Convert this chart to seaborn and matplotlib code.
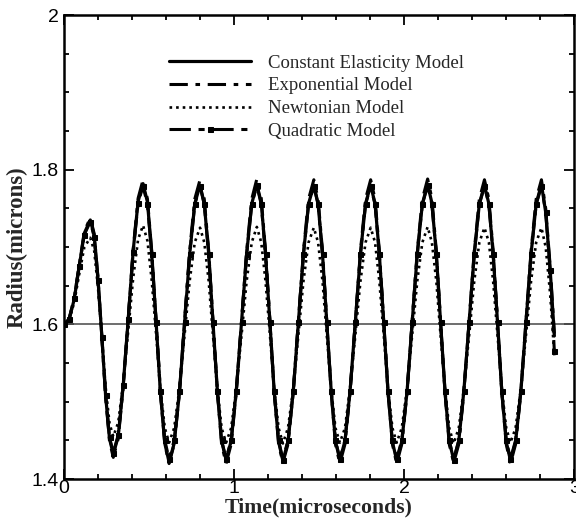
import pandas as pd
import seaborn as sns
import matplotlib.pyplot as plt
from matplotlib.ticker import MultipleLocator, FormatStrFormatter

# time samples (microseconds)
time = [0.000, 0.030, 0.060, 0.090, 0.120, 0.155,
        0.178, 0.200, 0.223, 0.245, 0.268, 0.290,
        0.319, 0.348, 0.378, 0.407, 0.436,
        0.465, 0.491, 0.516, 0.542, 0.567, 0.593, 0.618, 0.648, 0.679, 0.709, 0.739, 0.769,
        0.800, 0.825, 0.851, 0.876, 0.902, 0.927, 0.953, 0.983, 1.013, 1.044, 1.074, 1.104,
        1.134, 1.160, 1.185, 1.211, 1.236, 1.262, 1.287, 1.317, 1.348, 1.378, 1.408, 1.438,
        1.469, 1.494, 1.520, 1.545, 1.571, 1.596, 1.622, 1.652, 1.682, 1.713, 1.743, 1.773,
        1.803, 1.829, 1.854, 1.880, 1.905, 1.931, 1.956, 1.986, 2.017, 2.047, 2.077, 2.107,
        2.138, 2.163, 2.189, 2.214, 2.240, 2.265, 2.291, 2.321, 2.351, 2.382, 2.412, 2.442,
        2.472, 2.498, 2.523, 2.549, 2.574, 2.600, 2.625, 2.655, 2.686, 2.716, 2.746, 2.776,
        2.807, 2.832, 2.858, 2.883]

constant = [1.600, 1.606, 1.632, 1.675, 1.718, 1.735,
            1.715, 1.659, 1.584, 1.508, 1.452, 1.432,
            1.455, 1.520, 1.607, 1.695, 1.759,
            1.782, 1.758, 1.692, 1.602, 1.512, 1.446, 1.422, 1.446, 1.512, 1.601, 1.690, 1.756,
            1.780, 1.756, 1.691, 1.603, 1.514, 1.449, 1.425, 1.449, 1.514, 1.603, 1.691, 1.756,
            1.781, 1.757, 1.691, 1.602, 1.513, 1.448, 1.424, 1.448, 1.513, 1.602, 1.691, 1.756,
            1.780, 1.756, 1.691, 1.603, 1.514, 1.449, 1.425, 1.449, 1.514, 1.603, 1.691, 1.756,
            1.780, 1.756, 1.691, 1.602, 1.513, 1.448, 1.424, 1.448, 1.513, 1.602, 1.691, 1.756,
            1.781, 1.757, 1.691, 1.603, 1.514, 1.449, 1.425, 1.449, 1.514, 1.603, 1.691, 1.756,
            1.780, 1.756, 1.691, 1.602, 1.513, 1.448, 1.424, 1.448, 1.513, 1.602, 1.691, 1.756,
            1.781, 1.745, 1.672, 1.585]

exponential = [1.600, 1.606, 1.633, 1.677, 1.720, 1.738,
               1.717, 1.661, 1.583, 1.506, 1.449, 1.428,
               1.452, 1.518, 1.608, 1.697, 1.763,
               1.787, 1.762, 1.695, 1.604, 1.512, 1.445, 1.420, 1.445, 1.512, 1.604, 1.695, 1.762,
               1.787, 1.762, 1.695, 1.604, 1.512, 1.445, 1.420, 1.445, 1.512, 1.604, 1.695, 1.762,
               1.788, 1.763, 1.695, 1.604, 1.512, 1.445, 1.421, 1.445, 1.512, 1.604, 1.695, 1.762,
               1.787, 1.762, 1.695, 1.604, 1.512, 1.445, 1.420, 1.445, 1.512, 1.604, 1.695, 1.762,
               1.787, 1.762, 1.695, 1.604, 1.512, 1.445, 1.420, 1.445, 1.512, 1.604, 1.695, 1.762,
               1.788, 1.763, 1.695, 1.604, 1.512, 1.445, 1.421, 1.445, 1.512, 1.604, 1.695, 1.762,
               1.787, 1.762, 1.695, 1.604, 1.512, 1.445, 1.420, 1.445, 1.512, 1.604, 1.695, 1.762,
               1.787, 1.750, 1.676, 1.588]

newtonian = [1.600, 1.605, 1.628, 1.665, 1.700, 1.712,
             1.695, 1.648, 1.584, 1.519, 1.472, 1.455,
             1.473, 1.523, 1.592, 1.660, 1.710,
             1.728, 1.708, 1.657, 1.587, 1.517, 1.466, 1.447, 1.466, 1.517, 1.586, 1.656, 1.706,
             1.725, 1.706, 1.656, 1.586, 1.517, 1.466, 1.447, 1.466, 1.517, 1.586, 1.656, 1.706,
             1.726, 1.706, 1.656, 1.586, 1.517, 1.466, 1.446, 1.466, 1.517, 1.586, 1.656, 1.706,
             1.725, 1.706, 1.656, 1.586, 1.517, 1.466, 1.447, 1.466, 1.517, 1.586, 1.656, 1.706,
             1.725, 1.706, 1.656, 1.586, 1.517, 1.466, 1.447, 1.466, 1.517, 1.586, 1.656, 1.706,
             1.726, 1.706, 1.656, 1.586, 1.517, 1.466, 1.446, 1.466, 1.517, 1.586, 1.656, 1.706,
             1.725, 1.706, 1.656, 1.586, 1.517, 1.466, 1.447, 1.466, 1.517, 1.586, 1.656, 1.706,
             1.725, 1.700, 1.640, 1.560]

quadratic = [1.600, 1.607, 1.634, 1.676, 1.716, 1.733,
             1.713, 1.658, 1.584, 1.509, 1.454, 1.434,
             1.457, 1.521, 1.607, 1.694, 1.757,
             1.779, 1.755, 1.691, 1.603, 1.514, 1.450, 1.426, 1.450, 1.514, 1.603, 1.691, 1.755,
             1.779, 1.755, 1.691, 1.603, 1.514, 1.450, 1.426, 1.450, 1.514, 1.603, 1.691, 1.755,
             1.780, 1.755, 1.691, 1.603, 1.514, 1.450, 1.425, 1.450, 1.514, 1.603, 1.691, 1.755,
             1.779, 1.755, 1.691, 1.603, 1.514, 1.450, 1.426, 1.450, 1.514, 1.603, 1.691, 1.755,
             1.779, 1.755, 1.691, 1.603, 1.514, 1.450, 1.426, 1.450, 1.514, 1.603, 1.691, 1.755,
             1.780, 1.755, 1.691, 1.603, 1.514, 1.450, 1.425, 1.450, 1.514, 1.603, 1.691, 1.755,
             1.779, 1.755, 1.691, 1.603, 1.514, 1.450, 1.426, 1.450, 1.514, 1.603, 1.691, 1.755,
             1.779, 1.745, 1.670, 1.565]

df = pd.DataFrame({'t': time, 'const': constant, 'expo': exponential,
                   'newt': newtonian, 'quad': quadratic})

sns.set_style("ticks")
plt.rcParams['font.family'] = ['Liberation Sans', 'DejaVu Sans']

fig = plt.figure(figsize=(5.76, 5.27), dpi=100)
ax = fig.add_axes([0.111, 0.091, 0.886, 0.8805])

ax.axhline(1.6, color='#555555', lw=1.2, zorder=1)

sns.lineplot(data=df, x='t', y='const', ax=ax, color='black', lw=2.3,
             estimator=None, sort=False, label='Constant Elasticity Model')
sns.lineplot(data=df, x='t', y='expo', ax=ax, color='black', lw=2.2,
             linestyle=(0, (6, 2.5, 1.5, 2.5)),
             estimator=None, sort=False, label='Exponential Model')
sns.lineplot(data=df, x='t', y='newt', ax=ax, color='black', lw=1.9,
             linestyle=(0, (1, 1.5)),
             estimator=None, sort=False, label='Newtonian Model')
sns.lineplot(data=df, x='t', y='quad', ax=ax, color='black', lw=2.2,
             linestyle=(0, (7, 2.5, 2, 2.5)), marker='s', markersize=3.6,
             markevery=1, markeredgecolor='black', markerfacecolor='black',
             estimator=None, sort=False, label='Quadratic Model')

ax.set_xlim(0, 3)
ax.set_ylim(1.4, 2)
ax.xaxis.set_major_locator(MultipleLocator(1))
ax.xaxis.set_minor_locator(MultipleLocator(0.2))
ax.yaxis.set_major_locator(MultipleLocator(0.2))
ax.yaxis.set_minor_locator(MultipleLocator(0.05))
ax.xaxis.set_major_formatter(FormatStrFormatter('%g'))
ax.yaxis.set_major_formatter(FormatStrFormatter('%g'))

ax.tick_params(which='both', direction='in', top=True, right=True,
               width=1.3, colors='black', labelsize=14)
ax.tick_params(which='major', length=7)
ax.tick_params(which='minor', length=3.5)
ax.tick_params(axis='x', pad=1)
ax.tick_params(axis='y', pad=4)
for s in ax.spines.values():
    s.set_linewidth(1.8)
    s.set_color('black')

ax.set_xlabel('Time(microseconds)', family='Liberation Serif',
              fontweight='bold', fontsize=15.7, labelpad=0)
ax.set_ylabel('Radius(microns)', family='Liberation Serif',
              fontweight='bold', fontsize=16.5, labelpad=2.5)

leg = ax.legend(loc='upper left', bbox_to_anchor=(0.205, 0.915), frameon=False,
                handlelength=4.4, handletextpad=0.9, labelspacing=0.3,
                borderaxespad=0, borderpad=0,
                prop={'family': 'Liberation Serif', 'size': 13.5})

fig.savefig('out.png', dpi=100)
